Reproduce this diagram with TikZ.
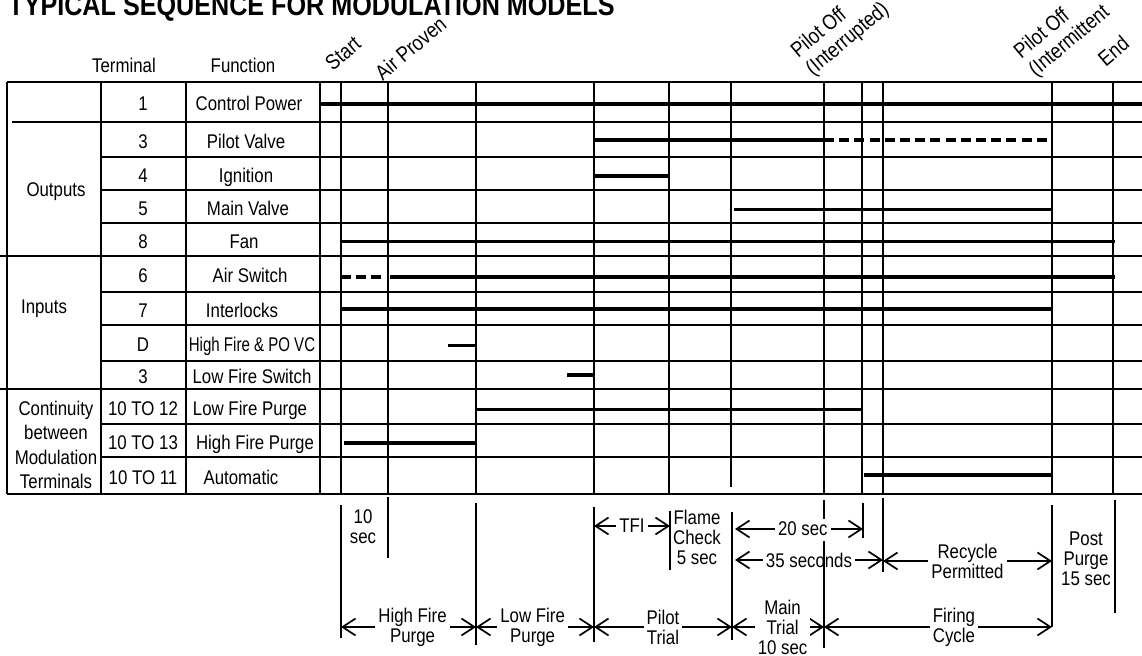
\documentclass[tikz,border=0pt]{standalone}
\usepackage{fontspec}
\setmainfont{Liberation Sans}[FakeStretch=0.85]
\newfontfamily\slimfont{Liberation Sans}[FakeStretch=0.76]
\usetikzlibrary{arrows.meta}
\begin{document}
\begin{tikzpicture}[x=0.5pt,y=-0.5pt,line join=round,>={Straight Barb[length=6.5pt,width=8.5pt]},
	every node/.style={font=\fontsize{9.9}{10}\selectfont,inner sep=1pt},
	grid/.style={line width=0.6pt},
	trace/.style={line width=1.6pt},
	gapdash/.style={dash pattern=on 5pt off 2.6pt},
	timespan/.style={<->,line width=0.85pt},
	gaplabel/.style={fill=white,align=center,inner sep=1.5pt},
	tilt/.style={rotate=40,anchor=south west,align=left,inner sep=0pt,font=\fontsize{10.7}{11.6}\selectfont},
	declare function={xL = 7; xT = 101; xF = 186; xP = 320; xR = 1142; tS = 341; tA = 388; tB = 476; tC = 594; tD = 669; tE = 731; tF = 824; tG = 862; tH = 883; tI = 1052; tJ = 1113; yArr = 627;}]
	\useasboundingbox (0,0) rectangle (1142,656);
	%% Title
	\node[anchor=base west,inner sep=0pt,font=\bfseries\fontsize{14.8}{16}\selectfont] (title) at (8,16) {TYPICAL SEQUENCE FOR MODULATION MODELS};
	%% Column heads
	\node[anchor=base] (termhead) at (124,73) {Terminal};
	\node[anchor=base] (funchead) at (243,73) {Function};
	%% Event marks
	\node[tilt] (start) at (333,72) {Start};
	\node[tilt] (airproven) at (383,82) {Air Proven};
	\node[tilt] (pilotoffint) at (816,80) {Pilot Off\\(Interrupted)};
	\node[tilt] (pilotoffmit) at (1039,81) {Pilot Off\\(Intermittent};
	\node[tilt] (theend) at (1106,68) {End};
	%% Grid
	\draw[grid] (xL,82) -- (xR,82);
	\draw[grid] (12,122) -- (xR,122);
	\foreach \yy in {157,190,223,292,325,361,424,457} \draw[grid] (xT,\yy) -- (xR,\yy);
	\foreach \yy in {256,389} \draw[grid] (0,\yy) -- (xR,\yy);
	\draw[grid] (xL,494) -- (xR,494);
	\foreach \xx in {xL,xT,xF,xP,tS,tA,tB,tC,tD,tF,tG,tH,tI,tJ} \draw[grid] (\xx,82) -- (\xx,494);
	\draw[grid] (tE,82) -- (tE,487);
	%% Groups
	\node[anchor=base] (outputs) at (56,197) {Outputs};
	\node[anchor=base] (inputs) at (44,314) {Inputs};
	\node[align=center,font=\fontsize{9.9}{12.25}\selectfont] (continuity) at (56,445) {Continuity\\between\\Modulation\\Terminals};
	%% Terminals and functions
	\foreach \yc/\tm/\fx/\fn [count=\i] in {102/1/249/Control Power, 139.5/3/246/Pilot Valve, 173.5/4/246/Ignition, 206.5/5/248/Main Valve, 239.5/8/244/Fan, 274/6/250/Air Switch, 308.5/7/242/Interlocks, 343/D/252/{\slimfont High Fire \& PO VC}, 375/3/252/Low Fire Switch, 406.5/10 TO 12/250/Low Fire Purge, 440.5/10 TO 13/255/High Fire Purge, 475.5/10 TO 11/241/Automatic}{
		\node[anchor=base] (term\i) at (143,\yc+9) {\tm};
		\node[anchor=base] (func\i) at (\fx,\yc+9) {\fn};
	}
	%% Traces
	\draw[trace] (xP,104) -- (xR,104);
	\draw[trace] (tC,140) -- (tF,140);
	\draw[trace,gapdash] (tF,140) -- (1048,140);
	\draw[trace] (tC,176) -- (tD,176);
	\draw[trace] (734,209.5) -- (tI,209.5);
	\draw[trace] (tS,241.5) -- (1115,241.5);
	\draw[trace,gapdash] (tS,277) -- (tA,277);
	\draw[trace] (390,277) -- (1115,277);
	\draw[trace] (tS,309) -- (tI,309);
	\draw[trace] (448,345.5) -- (tB,345.5);
	\draw[trace] (567,375) -- (tC,375);
	\draw[trace] (tB,409.5) -- (863,409.5);
	\draw[trace] (344,443) -- (477,443);
	\draw[trace] (864,475) -- (tI,475);
	%% Timing marks below
	\draw[grid] (tS,505) -- (tS,638);
	\draw[grid] (tA,497) -- (tA,558);
	\draw[grid] (tB,503) -- (tB,645);
	\draw[grid] (tC,507) -- (tC,642);
	\draw[grid] (670,511) -- (670,570);
	\draw[grid] (732,512) -- (732,640);
	\draw[grid] (863,503) -- (863,538);
	\draw[grid] (tH,498) -- (tH,572);
	\draw[grid] (tI,505) -- (tI,yArr);
	\draw[grid] (1115,500) -- (1115,613);
	\node[align=center] (tensec) at (363,527) {10\\sec};
	\node[align=center] (flamecheck) at (697,537) {Flame\\Check\\5 sec};
	\node[align=center] (postpurge) at (1086,559) {Post\\Purge\\15 sec};
	\draw[timespan] (tC,526) -- (670,526) node[gaplabel,midway] (tfi) {TFI};
	\draw[timespan] (735,529) -- (863,529) node[gaplabel,pos=0.53] (twentysec) {20 sec};
	\draw[timespan] (735,560) -- (tH,560) node[gaplabel,midway] (thirtyfive) {35 seconds};
	\draw[timespan] (tH,561) -- (tI,561) node[gaplabel,midway] (recycle) {Recycle\\Permitted};
	\draw[grid] (tF,500) -- (tF,519) (tF,541) -- (tF,648);
	%% Phases
	\draw[timespan] (tS,yArr) -- (tB,yArr) node[gaplabel,pos=0.53] (hfpurge) {High Fire\\Purge};
	\draw[timespan] (tB,yArr) -- (tC,yArr) node[gaplabel,pos=0.48] (lfpurge) {Low Fire\\Purge};
	\draw[timespan] (tC,yArr) -- (732,yArr) node[gaplabel,midway] (pilottrial) {Pilot\\Trial};
	\draw[timespan] (732,yArr) -- (tF,yArr) node[gaplabel,pos=0.55] (maintrial) {Main\\Trial\\10 sec};
	\draw[timespan] (tF,yArr) -- (tI,yArr) node[gaplabel,pos=0.57] (firing) {Firing\\Cycle};
\end{tikzpicture}
\end{document}
